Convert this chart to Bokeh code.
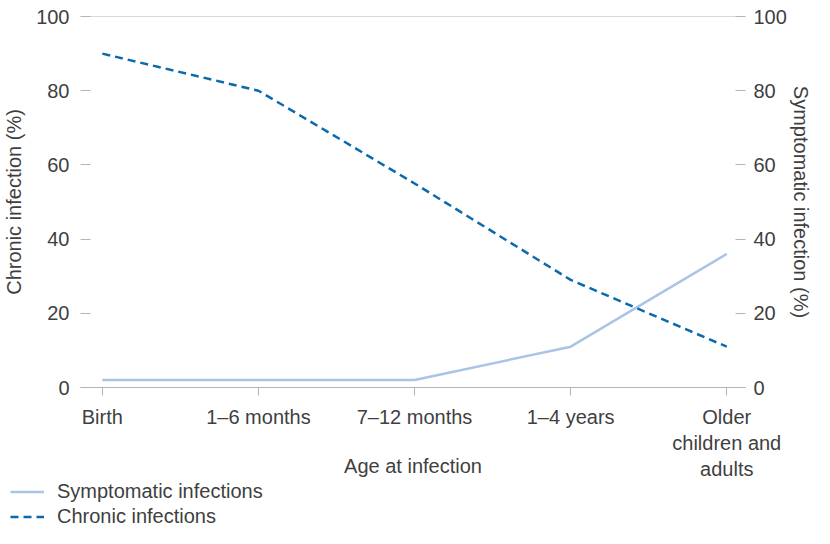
from bokeh.plotting import figure
from bokeh.layouts import column
from bokeh.models import (Range1d, LinearAxis, FixedTicker, Span, Legend, LegendItem)
from bokeh.embed import file_html
from bokeh.resources import INLINE

categories = ["Birth", "1\u20136 months", "7\u201312 months", "1\u20134 years", "Older\nchildren and\nadults"]
chronic = [90, 80, 55, 29, 11]
symptomatic = [2, 2, 2, 11, 36]
y_ticks = [0, 20, 40, 60, 80, 100]
series_names = ["Symptomatic infections", "Chronic infections"]

FONT = "Liberation Sans"
TXT = "#3f3f3f"
GRAY = "#b4b4b4"
SYM_COLOR = "#a9c4e4"
CHR_COLOR = "#0b69ad"

x = list(range(len(categories)))

p = figure(width=814, height=480, output_backend="svg", toolbar_location=None,
           x_range=Range1d(-0.14, 4.12), y_range=Range1d(0, 100),
           min_border_left=80, min_border_right=60, min_border_top=16, min_border_bottom=90)
p.extra_y_ranges = {"right": Range1d(0, 100)}
p.outline_line_color = None
p.xgrid.visible = False
p.ygrid.visible = False

# x axis
xa = p.xaxis[0]
xa.ticker = FixedTicker(ticks=x)
xa.major_label_overrides = {i: c for i, c in enumerate(categories)}
xa.major_tick_in = 0
xa.major_tick_out = 8
xa.minor_tick_line_color = None
xa.axis_line_color = GRAY
xa.major_tick_line_color = GRAY
xa.major_label_text_font = FONT
xa.major_label_text_font_size = "20px"
xa.major_label_text_color = TXT
xa.major_label_standoff = 10
xa.axis_label = "Age at infection"
xa.axis_label_text_font = FONT
xa.axis_label_text_font_size = "20px"
xa.axis_label_text_font_style = "normal"
xa.axis_label_text_color = TXT
xa.axis_label_standoff = -28

# left axis
ya = p.yaxis[0]
ya.ticker = FixedTicker(ticks=y_ticks)
ya.major_tick_in = 10
ya.major_tick_out = 0
ya.minor_tick_line_color = None
ya.axis_line_color = None
ya.major_tick_line_color = GRAY
ya.major_label_text_font = FONT
ya.major_label_text_font_size = "20px"
ya.major_label_text_color = TXT
ya.major_label_standoff = 11
ya.axis_label = "Chronic infection (%)"
ya.axis_label_text_font = FONT
ya.axis_label_text_font_size = "20px"
ya.axis_label_text_font_style = "normal"
ya.axis_label_text_color = TXT
ya.axis_label_standoff = 8

# right axis
ra = LinearAxis(y_range_name="right", ticker=FixedTicker(ticks=y_ticks))
ra.major_tick_in = 10
ra.major_tick_out = 0
ra.minor_tick_line_color = None
ra.axis_line_color = None
ra.major_tick_line_color = GRAY
ra.major_label_text_font = FONT
ra.major_label_text_font_size = "20px"
ra.major_label_text_color = TXT
ra.major_label_standoff = 8
ra.axis_label = "Symptomatic infection (%)"
ra.axis_label_text_font = FONT
ra.axis_label_text_font_size = "20px"
ra.axis_label_text_font_style = "normal"
ra.axis_label_text_color = TXT
ra.axis_label_standoff = 0
p.add_layout(ra, "right")

p.add_layout(Span(location=100, dimension="width", line_color=GRAY, line_width=1))

p.line(x, symptomatic, y_range_name="right", line_color=SYM_COLOR, line_width=2.5)
p.line(x, chronic, line_color=CHR_COLOR, line_width=2.5, line_dash="8 5")

# legend strip below the chart (its renderers use the same data, kept outside its view)
lg = figure(width=814, height=48, output_backend="svg", toolbar_location=None,
            x_axis_location=None, y_axis_location=None, min_border=0,
            x_range=Range1d(-20, -19), y_range=Range1d(-20, -19))
if "frame_align" in lg.properties():
    lg.frame_align = False
    p.frame_align = False
lg.outline_line_color = None
lg.xgrid.visible = False
lg.ygrid.visible = False
l_sym = lg.line(x, symptomatic, line_color=SYM_COLOR, line_width=2.5)
l_chr = lg.line(x, chronic, line_color=CHR_COLOR, line_width=2.5, line_dash="8 5")
legend = Legend(items=[LegendItem(label=series_names[0], renderers=[l_sym]),
                       LegendItem(label=series_names[1], renderers=[l_chr])],
                location=(10, 0), orientation="vertical",
                padding=0, margin=0, spacing=2, glyph_width=34, glyph_height=23,
                label_height=23, label_standoff=13,
                label_text_font=FONT, label_text_font_size="20px", label_text_color=TXT,
                border_line_alpha=0, background_fill_alpha=0)
lg.add_layout(legend, "center")

open("out.html", "w").write(file_html(column(p, lg, spacing=0), INLINE))
